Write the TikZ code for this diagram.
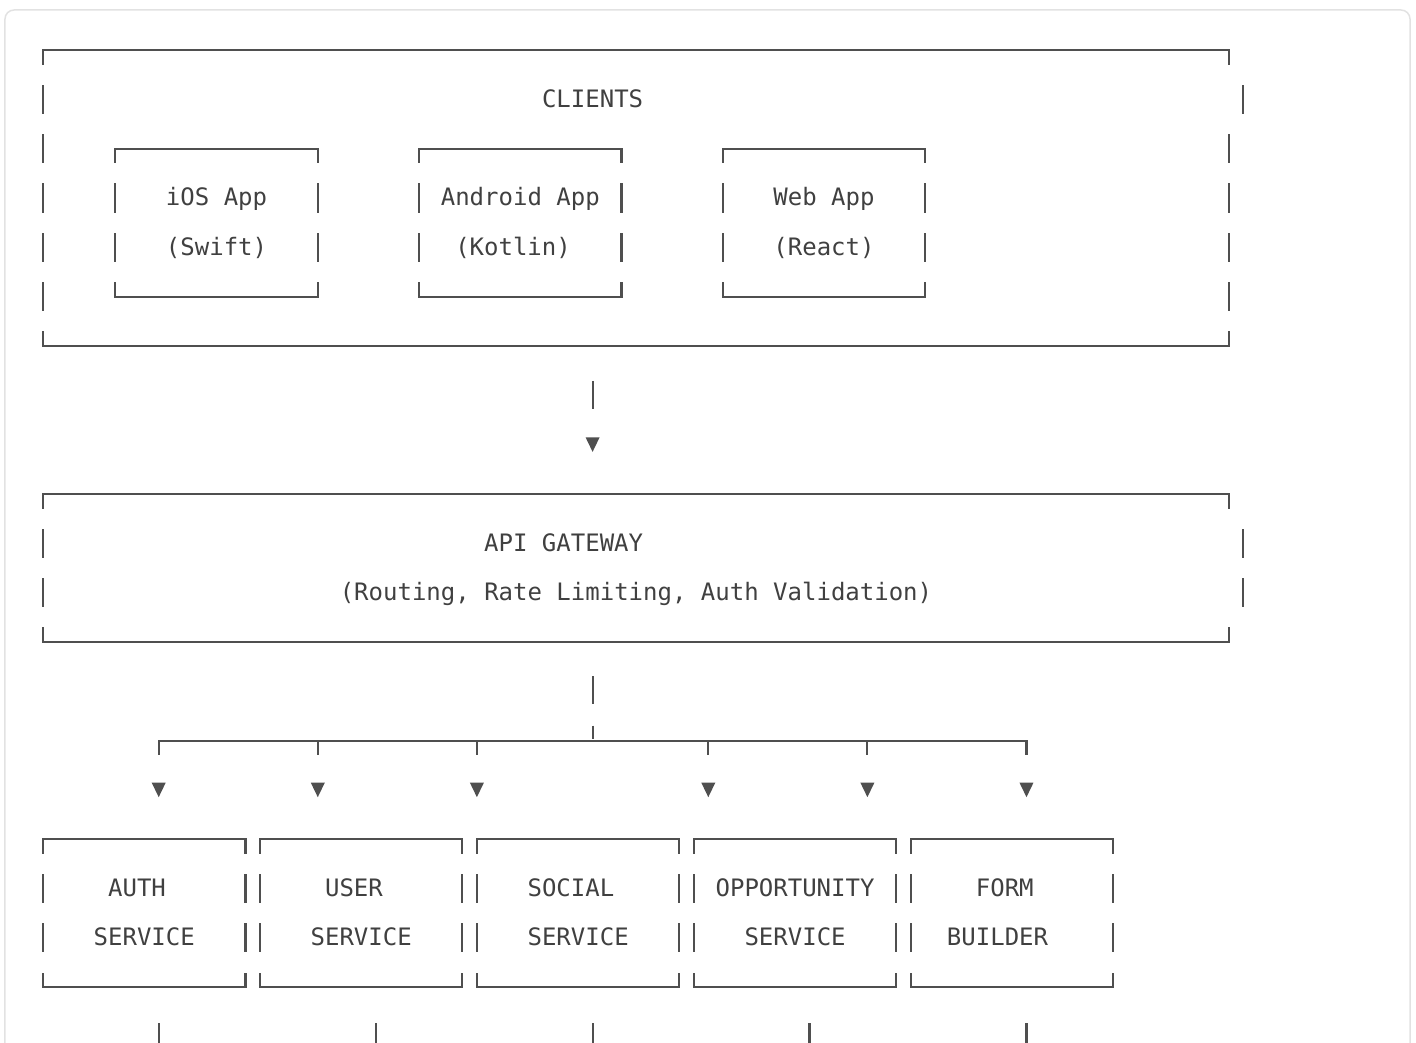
\documentclass[tikz,border=0pt]{standalone}
\usepackage{fontspec}
\setmonofont{DejaVu Sans Mono}
\usetikzlibrary{arrows.meta, fit}
\definecolor{lineGray}{HTML}{4F4F4F}
\definecolor{textGray}{HTML}{404040}
\definecolor{cardGray}{HTML}{E2E2E2}
\tikzset{
	glyph/.style={draw=lineGray, line width=2.1pt, line cap=rect},
	boxSides/.style={glyph, dash pattern=on 27pt off 22.33pt, dash phase=13.5pt},
	boxArea/.style={inner sep=0pt, outer sep=0pt},
	txt/.style={font=\ttfamily\fontsize{24pt}{29pt}\selectfont, text=textGray, inner sep=0pt, anchor=base},
	downTip/.style={-{Triangle[width=14pt, length=14.5pt, line width=0pt]}, shorten >=42.1pt},
	feedLine/.style={glyph, line cap=butt, downTip, dash pattern=on 28pt off 34.83pt, dash phase=28pt},
	trunkLine/.style={glyph, line cap=butt, dash pattern=on 28pt off 21.33pt on 13.5pt off 34.83pt, dash phase=63.33pt},
	branchLine/.style={glyph, downTip, dash pattern=on 13.5pt off 200pt},
	outStem/.style={glyph, line cap=butt, dash pattern=on 200pt off 35.83pt, dash phase=200pt},
}
\newcommand{\asciiBox}[6][boxSides]{
	\path (#3,#4) coordinate (#2-nw) (#5,#6) coordinate (#2-se);
	\node[boxArea, fit=(#2-nw)(#2-se)] (#2) {};
	\draw[glyph] (#2.north west) -- (#2.north east);
	\draw[glyph] (#2.south west) -- (#2.south east);
	\draw[boxSides] (#2.north west) -- (#2.south west);
	\draw[#1] (#2.north east) -- (#2.south east);
}
\newcommand{\glyphText}[5][]{
	\path (#2,#3+0.16) node[txt, #1](#4){#5};
}
\newcommand{\vBar}[2]{
	\draw[glyph] (#1,#2-0.2737) -- (#1,#2+0.2737);
}

\begin{document}
\begin{tikzpicture}[x=14.463pt, y=-49.33pt]
	\useasboundingbox (-43pt,50pt) rectangle (1373pt,-993pt);
	\draw[cardGray, line width=1.5pt, rounded corners=9pt] (-38pt,40pt) rectangle (1367pt,-1060pt);

	% clients
	\asciiBox[glyph, dash pattern=on 13.5pt off 71.66pt on 27pt off 22.33pt on 27pt off 22.33pt on 27pt off 22.33pt on 27pt off 22.33pt on 13.5pt off 10pt]{clients}{0}{0}{82}{6};
	\vBar{83}{1};
	\glyphText{38}{1}{clientsTitle}{CLIENTS};
	\asciiBox{ios}{5}{2}{19}{5};
	\asciiBox{android}{26}{2}{40}{5};
	\asciiBox{web}{47}{2}{61}{5};
	\glyphText{12}{3}{iosName}{iOS App};
	\glyphText{12}{4}{iosLang}{(Swift)};
	\glyphText{33}{3}{androidName}{Android App};
	\glyphText{32.5}{4}{androidLang}{(Kotlin)};
	\glyphText{54}{3}{webName}{Web App};
	\glyphText{54}{4}{webLang}{(React)};

	% gateway
	\asciiBox[glyph, dash pattern=on 13.5pt off 121pt on 13.5pt off 10pt]{gateway}{0}{9}{82}{12};
	\vBar{83}{10};
	\vBar{83}{11};
	\glyphText{36}{10}{gatewayTitle}{API GATEWAY};
	\glyphText{41}{11}{gatewayRole}{(Routing, Rate Limiting, Auth Validation)};

	% services
	\asciiBox{auth}{0}{16}{14}{19};
	\asciiBox{user}{15}{16}{29}{19};
	\asciiBox{social}{30}{16}{44}{19};
	\asciiBox{opportunity}{45}{16}{59}{19};
	\asciiBox{form}{60}{16}{74}{19};
	\glyphText{6.5}{17}{authL1}{AUTH};
	\glyphText{7}{18}{authL2}{SERVICE};
	\glyphText{21.5}{17}{userL1}{USER};
	\glyphText{22}{18}{userL2}{SERVICE};
	\glyphText{36.5}{17}{socialL1}{SOCIAL};
	\glyphText{37}{18}{socialL2}{SERVICE};
	\glyphText{52}{17}{opportunityL1}{OPPORTUNITY};
	\glyphText{52}{18}{opportunityL2}{SERVICE};
	\glyphText{66.5}{17}{formL1}{FORM};
	\glyphText{66}{18}{formL2}{BUILDER};

	% connectors
	\draw[feedLine] (clientsTitle |- clients.south) -- (clientsTitle |- gateway.north);
	\coordinate (hub) at (38,14);
	\draw[trunkLine] (hub |- gateway.south) -- (hub);
	\coordinate (busA) at (8,14);
	\coordinate (busB) at (19,14);
	\coordinate (busC) at (30,14);
	\coordinate (busD) at (46,14);
	\coordinate (busE) at (57,14);
	\coordinate (busF) at (68,14);
	\draw[glyph] (busA) -- (busF);
	\draw[branchLine] (busA) -- (busA |- auth.north);
	\draw[branchLine] (busB) -- (busB |- user.north);
	\draw[branchLine] (busC) -- (busC |- social.north);
	\draw[branchLine] (busD) -- (busD |- opportunity.north);
	\draw[branchLine] (busE) -- (busE |- opportunity.north);
	\draw[branchLine] (busF) -- (busF |- form.north);

	\coordinate (authOut) at (8,20.8);
	\coordinate (userOut) at (23,20.8);
	\coordinate (socialOut) at (38,20.8);
	\coordinate (opportunityOut) at (53,20.8);
	\coordinate (formOut) at (68,20.8);
	\draw[outStem] (authOut |- auth.south) -- (authOut);
	\draw[outStem] (userOut |- user.south) -- (userOut);
	\draw[outStem] (socialOut |- social.south) -- (socialOut);
	\draw[outStem] (opportunityOut |- opportunity.south) -- (opportunityOut);
	\draw[outStem] (formOut |- form.south) -- (formOut);
\end{tikzpicture}
\end{document}
